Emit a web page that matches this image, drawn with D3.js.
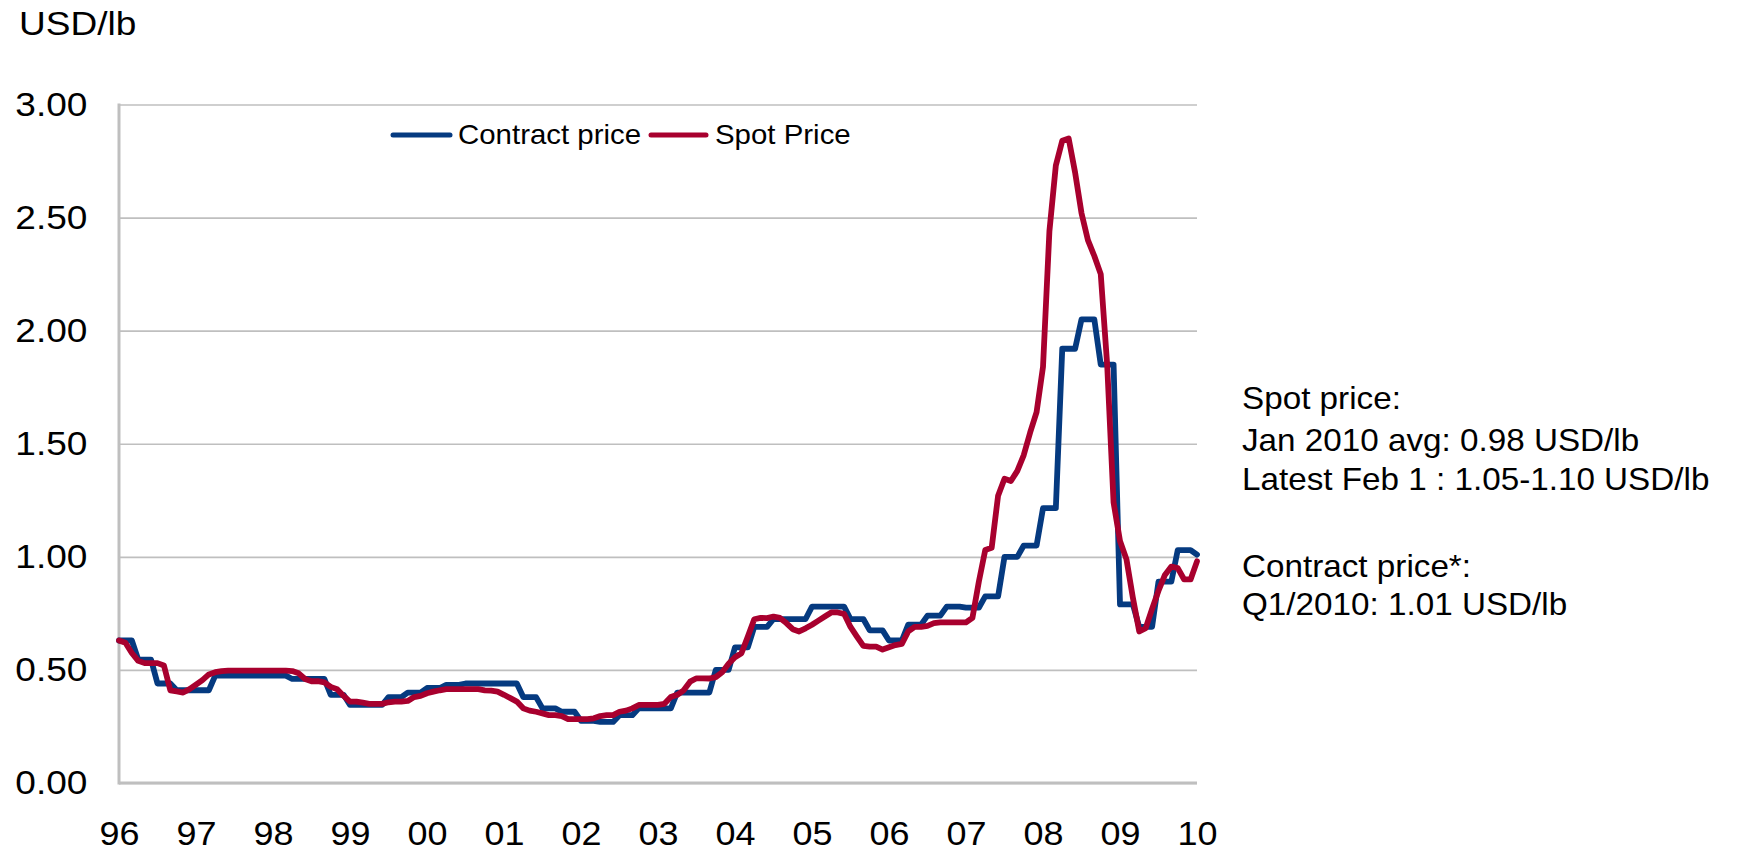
<!DOCTYPE html>
<html>
<head>
<meta charset="utf-8">
<script src="https://cdn.jsdelivr.net/npm/d3@7"></script>
<style>
  body { margin: 0; background: #fff; }
  svg text { font-family: "Liberation Sans", Arial, sans-serif; fill: #000; }
</style>
</head>
<body>
<svg id="chart"></svg>
<script>
const yearLabels = ['96', '97', '98', '99', '00', '01', '02', '03', '04', '05', '06', '07', '08', '09', '10'];
const yTicks = [0, 0.5, 1, 1.5, 2, 2.5, 3];
const seriesNames = ['Contract price', 'Spot Price'];

// monthly values, Jan 1996 .. Jan 2010 (USD/lb)
const contractPrice = [
  0.63, 0.63, 0.63, 0.545, 0.545, 0.545, 0.44, 0.44, 0.44, 0.41, 0.41, 0.41,
  0.41, 0.41, 0.41, 0.475, 0.475, 0.475, 0.475, 0.475, 0.475, 0.475, 0.475, 0.475,
  0.475, 0.475, 0.475, 0.46, 0.46, 0.46, 0.46, 0.46, 0.46, 0.39, 0.39, 0.39,
  0.345, 0.345, 0.345, 0.345, 0.345, 0.345, 0.38, 0.38, 0.38, 0.40, 0.40, 0.40,
  0.42, 0.42, 0.42, 0.434, 0.434, 0.434, 0.44, 0.44, 0.44, 0.44, 0.44, 0.44,
  0.44, 0.44, 0.44, 0.38, 0.38, 0.38, 0.33, 0.33, 0.33, 0.315, 0.315, 0.315,
  0.275, 0.275, 0.275, 0.27, 0.27, 0.27, 0.30, 0.30, 0.30, 0.33, 0.33, 0.33,
  0.33, 0.33, 0.33, 0.40, 0.40, 0.40, 0.40, 0.40, 0.40, 0.50, 0.50, 0.50,
  0.60, 0.60, 0.60, 0.69, 0.69, 0.69, 0.725, 0.725, 0.725, 0.725, 0.725, 0.725,
  0.78, 0.78, 0.78, 0.78, 0.78, 0.78, 0.725, 0.725, 0.725, 0.675, 0.675, 0.675,
  0.63, 0.63, 0.63, 0.70, 0.70, 0.70, 0.74, 0.74, 0.74, 0.78, 0.78, 0.78,
  0.775, 0.775, 0.775, 0.825, 0.825, 0.825, 1.00, 1.00, 1.00, 1.05, 1.05, 1.05,
  1.215, 1.215, 1.215, 1.92, 1.92, 1.92, 2.05, 2.05, 2.05, 1.85, 1.85, 1.85,
  0.79, 0.79, 0.79, 0.69, 0.69, 0.69, 0.89, 0.89, 0.89, 1.03, 1.03, 1.03,
  1.01
];

const spotPrice = [
  0.63, 0.62, 0.575, 0.54, 0.53, 0.53, 0.53, 0.52, 0.41, 0.405, 0.40, 0.415,
  0.435, 0.455, 0.48, 0.49, 0.495, 0.497, 0.497, 0.497, 0.497, 0.497, 0.497, 0.497,
  0.497, 0.497, 0.497, 0.495, 0.485, 0.46, 0.45, 0.45, 0.445, 0.425, 0.415, 0.385,
  0.36, 0.36, 0.355, 0.35, 0.35, 0.35, 0.357, 0.36, 0.36, 0.363, 0.38, 0.385,
  0.397, 0.404, 0.41, 0.415, 0.415, 0.415, 0.415, 0.415, 0.415, 0.41, 0.408, 0.404,
  0.39, 0.375, 0.36, 0.33, 0.32, 0.315, 0.308, 0.30, 0.30, 0.296, 0.282, 0.282,
  0.282, 0.282, 0.286, 0.296, 0.30, 0.30, 0.315, 0.32, 0.33, 0.345, 0.345, 0.345,
  0.345, 0.35, 0.38, 0.39, 0.41, 0.448, 0.463, 0.463, 0.462, 0.468, 0.49, 0.527,
  0.556, 0.574, 0.647, 0.724, 0.73, 0.729, 0.736, 0.73, 0.707, 0.68, 0.67, 0.684,
  0.70, 0.718, 0.736, 0.754, 0.754, 0.748, 0.69, 0.647, 0.606, 0.603, 0.603, 0.59,
  0.60, 0.61, 0.615, 0.67, 0.69, 0.69, 0.695, 0.707, 0.71, 0.71, 0.71, 0.71,
  0.71, 0.73, 0.89, 1.03, 1.04, 1.27, 1.345, 1.335, 1.38, 1.45, 1.55, 1.64,
  1.84, 2.44, 2.73, 2.84, 2.85, 2.70, 2.52, 2.40, 2.33, 2.25, 1.85, 1.24,
  1.07, 0.99, 0.82, 0.67, 0.685, 0.77, 0.85, 0.92, 0.957, 0.95, 0.90, 0.90,
  0.98
];

const noteLines = [
  { text: 'Spot price:', y: 409 },
  { text: 'Jan 2010 avg: 0.98 USD/lb', y: 451 },
  { text: 'Latest Feb 1 : 1.05-1.10 USD/lb', y: 490 },
  { text: 'Contract price*:', y: 577 },
  { text: 'Q1/2010: 1.01 USD/lb', y: 615 }
];

const width = 1744;
const height = 854;
const plot = { left: 119, right: 1197, top: 104.5, bottom: 783 };
const stretch = 'scale(1.09,1)';
const blue = '#053a80';
const red = '#a8002e';
const grid = '#bfbfbf';

const svg = d3.select('#chart')
              .attr('width', width)
              .attr('height', height);

const x = d3.scaleLinear()
            .domain([0, contractPrice.length - 1])
            .range([plot.left, plot.right]);

const y = d3.scaleLinear()
            .domain([0, 3])
            .range([plot.bottom, plot.top]);

// gridlines + y labels
const yAxis = d3.axisLeft(y)
                .tickValues(yTicks)
                .tickSize(-(plot.right - plot.left))
                .tickPadding(29)
                .tickFormat(d3.format('.2f'));

svg.append('g')
   .attr('transform', `translate(${plot.left},0)`)
   .call(yAxis)
   .call(g => g.select('.domain').remove())
   .call(g => g.selectAll('line').attr('stroke', grid).attr('stroke-width', 1.6))
   .call(g => g.selectAll('text')
               .attr('font-size', 34)
               .attr('font-family', '"Liberation Sans", Arial, sans-serif')
               .attr('fill', '#000')
               .attr('transform', stretch));

// x labels
const xAxis = d3.axisBottom(x)
                .tickValues(d3.range(0, contractPrice.length, 12))
                .tickSize(0)
                .tickFormat((d, i) => yearLabels[i]);

svg.append('g')
   .attr('transform', `translate(0,${plot.bottom})`)
   .call(xAxis)
   .call(g => g.select('.domain').remove())
   .call(g => g.selectAll('text')
               .attr('y', 62)
               .attr('dy', 0)
               .attr('font-size', 33)
               .attr('font-family', '"Liberation Sans", Arial, sans-serif')
               .attr('fill', '#000')
               .attr('transform', stretch));

// axis lines
svg.append('line')
   .attr('x1', plot.left).attr('x2', plot.right)
   .attr('y1', y(0)).attr('y2', y(0))
   .attr('stroke', grid).attr('stroke-width', 3);

svg.append('line')
   .attr('x1', plot.left).attr('x2', plot.left)
   .attr('y1', plot.top - 1).attr('y2', y(0) + 1.5)
   .attr('stroke', grid).attr('stroke-width', 3);

// series
const line = d3.line()
               .x((d, i) => x(i))
               .y(d => y(d));

[[contractPrice, blue], [spotPrice, red]].forEach(([data, color]) => {
  svg.append('path')
     .datum(data)
     .attr('fill', 'none')
     .attr('stroke', color)
     .attr('stroke-width', 5.8)
     .attr('stroke-linejoin', 'round')
     .attr('stroke-linecap', 'round')
     .attr('d', line);
});

// unit label
svg.append('text')
   .attr('transform', `translate(19,35) ${stretch}`)
   .attr('font-size', 34)
   .text('USD/lb');

// legend
const legend = svg.append('g');
const legendItems = [
  { name: seriesNames[0], color: blue, x1: 393, x2: 450, tx: 458 },
  { name: seriesNames[1], color: red, x1: 651, x2: 706, tx: 715 }
];

legendItems.forEach(d => {
  legend.append('line')
        .attr('x1', d.x1).attr('x2', d.x2)
        .attr('y1', 135).attr('y2', 135)
        .attr('stroke', d.color)
        .attr('stroke-width', 5)
        .attr('stroke-linecap', 'round');
  legend.append('text')
        .attr('transform', `translate(${d.tx},135) ${stretch}`)
        .attr('dy', '0.35em')
        .attr('font-size', 27)
        .text(d.name);
});

// annotation
svg.append('g')
   .selectAll('text')
   .data(noteLines)
   .enter()
   .append('text')
   .attr('transform', d => `translate(1242,${d.y}) ${stretch}`)
   .attr('font-size', 30.5)
   .text(d => d.text);
</script>
</body>
</html>
